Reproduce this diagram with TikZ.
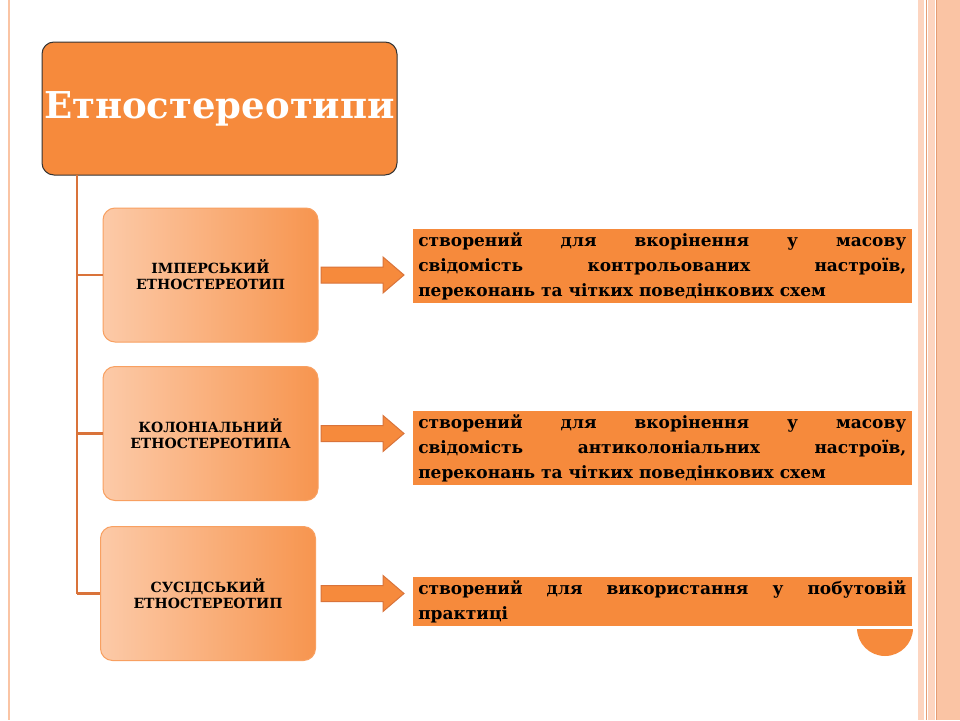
\documentclass[tikz,border=0pt]{standalone}
\usepackage{fontspec}
\setmainfont{DejaVu Serif}
\usetikzlibrary{shadows}
\definecolor{org}{HTML}{F68A3C}
\definecolor{lineo}{HTML}{D9733A}
\definecolor{peach}{HTML}{FAC4A4}
\definecolor{peachlt}{HTML}{FDD5C0}
\definecolor{boxL}{HTML}{FCCAA8}
\definecolor{boxD}{HTML}{F7954F}
\tikzset{
 titlebox/.style={draw=black!80,line width=1pt,fill=org,rounded corners=12pt,minimum width=355pt,minimum height=133pt,inner sep=0pt,text=white,font=\bfseries\fontsize{37}{40}\selectfont},
 catbox/.style={draw=boxD!90!white,line width=1pt,left color=boxL,right color=boxD,rounded corners=12pt,minimum width=215pt,minimum height=134pt,align=center,font=\bfseries\fontsize{14}{16}\selectfont,inner sep=0pt},
 descbox/.style={fill=org,draw=white,line width=2.5pt,drop shadow={shadow xshift=1.5pt,shadow yshift=-1.5pt,opacity=0.4},text width=488pt,align=justify,font=\bfseries\fontsize{17}{25}\selectfont,inner xsep=7pt,inner ysep=5pt,anchor=north west},
 conn/.style={draw=lineo,line width=2.5pt},
 fatarrow/.style={fill=org,draw=lineo,line width=1pt}
}
\begin{document}
\begin{tikzpicture}[x=1pt,y=-1pt]
\useasboundingbox (0,0) rectangle (960,720);
\fill[white] (0,0) rectangle (960,720);
% decorations
\draw[peach,line width=2pt] (9,0) -- (9,720);
\fill[peachlt] (918,0) rectangle (924,720);
\draw[lineo!70,line width=0.8pt] (926.5,0) -- (926.5,720);
\fill[peachlt] (928,0) rectangle (935,720);
\draw[lineo!70,line width=0.8pt] (936,0) -- (936,720);
\fill[peach] (937,0) rectangle (960,720);
\fill[org] (885,628) circle (28);
% title
\node[titlebox] (t) at (219.5,108.5) {Етностереотипи};
% categories
\node[catbox] (c1) at (210.5,275) {ІМПЕРСЬКИЙ\\ЕТНОСТЕРЕОТИП};
\node[catbox] (c2) at (210.5,433.5) {КОЛОНІАЛЬНИЙ\\ЕТНОСТЕРЕОТИПА};
\node[catbox] (c3) at (208,593.5) {СУСІДСЬКИЙ\\ЕТНОСТЕРЕОТИП};
\coordinate (v0) at (77,175);
\coordinate (v1) at (77,593.5);
\draw[conn] (v0) -- (v1);
\draw[conn] (77,275) -- (c1.west);
\draw[conn] (77,433.5) -- (c2.west);
\draw[conn] (77,593.5) -- (c3.west);
% descriptions
\node[descbox] (d1) at (410,226) {створений для вкорінення у масову\linebreak свідомість контрольованих настроїв,\linebreak переконань та чітких поведінкових схем};
\node[descbox] (d2) at (410,408) {створений для вкорінення у масову\linebreak свідомість антиколоніальних настроїв,\linebreak переконань та чітких поведінкових схем};
\node[descbox] (d3) at (410,574) {створений для використання у побутовій\linebreak практиці};
% arrows
\foreach \c/\y in {c1/275,c2/433.5,c3/593.5}{
 \draw[fatarrow] (321,\y-8) -- (383,\y-8) -- (383,\y-18) -- (404,\y) -- (383,\y+18) -- (383,\y+8) -- (321,\y+8) -- cycle;
}
\end{tikzpicture}
\end{document}
